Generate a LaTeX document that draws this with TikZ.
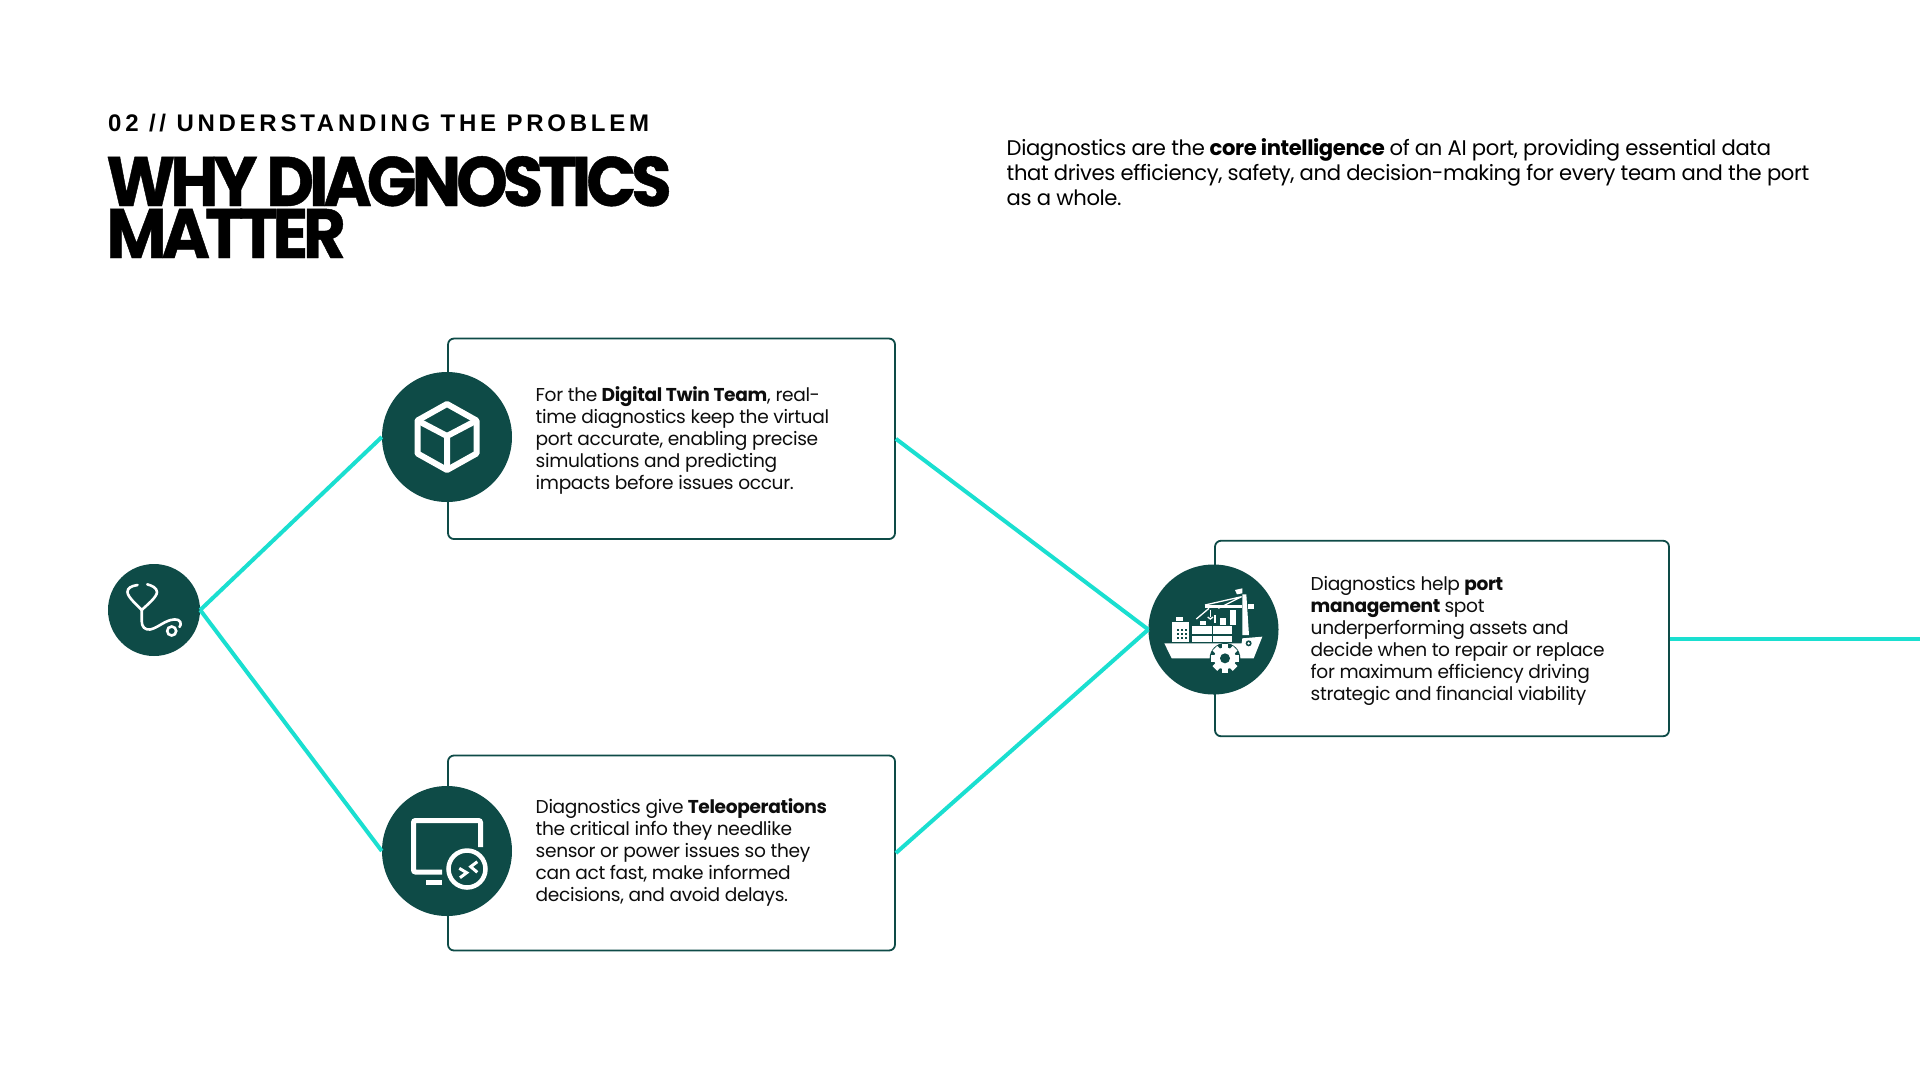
\documentclass[tikz,border=0pt]{standalone}
\usepackage{fontspec}
\setmainfont[LetterSpace=-1.9]{Poppins}
\newfontfamily\titlefont[LetterSpace=-7.3,FakeStretch=0.94,FakeBold=0.6]{Poppins Bold}
\newfontfamily\kickerfont[LetterSpace=15.6]{Liberation Sans Bold}
\definecolor{deep}{HTML}{0E4B47}
\definecolor{aqua}{HTML}{1ADFD0}
\tikzset{
  panel/.style={draw=deep,line width=1.8pt,rounded corners=6pt,fill=white,inner sep=0pt},
  disc/.style={circle,fill=deep,inner sep=0pt,minimum size=130pt},
  smalldisc/.style={circle,fill=deep,inner sep=0pt,minimum size=92pt},
  link/.style={draw=aqua,line width=4pt},
  body/.style={anchor=north west,align=left,inner sep=0pt,font=\fontsize{18.6}{22}\selectfont,text=black!95},
  lead/.style={anchor=north west,align=left,inner sep=0pt,font=\fontsize{21.15}{25}\selectfont,text=black},
  icon/.style={draw=white,line width=6pt,line join=round,fill=none},
  thin/.style={draw=white,line width=2.6pt,line cap=round,line join=round,fill=none},
  zoomed/.style={x=0.3333pt,y=-0.3333pt}
}
\begin{document}
\begin{tikzpicture}[x=1pt,y=-1pt]
\useasboundingbox (0,0) rectangle (1920,1080);
\fill[white] (0,0) rectangle (1920,1080);

\node[anchor=base west,inner sep=0pt,font=\fontsize{24}{24}\selectfont\kickerfont] (kicker) at (108,131) {02 // UNDERSTANDING THE PROBLEM};
\node[anchor=base west,inner sep=0pt,font=\fontsize{70}{70}\selectfont\titlefont] (title1) at (106,206) {WHY DIAGNOSTICS};
\node[anchor=base west,inner sep=0pt,font=\fontsize{70}{70}\selectfont\titlefont] (title2) at (106,258) {MATTER};
\node[lead] (intro) at (1006.5,138) {Diagnostics are the \textbf{core intelligence} of an AI port, providing essential data\\that drives efficiency, safety, and decision-making for every team and the port\\as a whole.};

\node[panel,minimum width=447pt,minimum height=200.5pt] (twinbox) at (671.5,438.8) {};
\node[panel,minimum width=447pt,minimum height=195pt] (telebox) at (671.5,853) {};
\node[panel,minimum width=454pt,minimum height=195.5pt] (portbox) at (1442,638.5) {};

\node[smalldisc] (steth) at (154,610) {};
\node[disc] (twin) at (447,437) {};
\node[disc] (tele) at (447,851) {};
\node[disc] (port) at (1213.5,629.5) {};
\coordinate (exit) at (1920,638.5);

\draw[link] (steth.east) -- (twin.west);
\draw[link] (steth.east) -- (tele.west);
\draw[link] (twinbox.east) -- (port.west);
\draw[link] (telebox.east) -- (port.west);
\draw[link] (portbox.east) -- (exit);

\node[body] (twintext) at (535.5,386.5) {For the \textbf{Digital Twin Team}, real-\\time diagnostics keep the virtual\\port accurate, enabling precise\\simulations and predicting\\impacts before issues occur.};
\node[body] (teletext) at (535.5,798) {Diagnostics give \textbf{Teleoperations}\\the critical info they needlike\\sensor or power issues so they\\can act fast, make informed\\decisions, and avoid delays.};
\node[body] (porttext) at (1310.5,576.5) {Diagnostics help \textbf{port}\\\textbf{management} spot\\underperforming assets and\\decide when to repair or replace\\for maximum efficiency driving\\strategic and financial viability};

% stethoscope
\draw[thin] (137.5,585) .. controls (131,586) and (127.5,588) .. (127.5,592) .. controls (127.5,597) and (137,605) .. (141.7,610) .. controls (147,605) and (157,597) .. (157,592) .. controls (157,588) and (152,585.5) .. (147.2,584.3);
\draw[thin] (141.7,610) -- (141.7,621) .. controls (141.7,627) and (145,630) .. (150,629.5) .. controls (158,628) and (165,620) .. (174,619.5) .. controls (181,619) and (182,624) .. (179.5,627);
\draw[draw=white,line width=2.6pt] (171.7,631) circle (4.5pt);

% cube
\begin{scope}[shift={(447,437)}]
\draw[icon] (0,-33) -- (29.5,-16.5) -- (29.5,16.5) -- (0,33) -- (-29.5,16.5) -- (-29.5,-16.5) -- cycle;
\draw[icon] (-29.5,-16.5) -- (0,-1) -- (29.5,-16.5) (0,-1) -- (0,33);
\end{scope}

% monitor
\draw[draw=white,line width=5pt,rounded corners=2pt] (480.5,847) -- (480.5,820.5) -- (413.5,820.5) -- (413.5,872) -- (442,872);
\fill[white] (426,880) rectangle (442,885);
\draw[draw=white,line width=4.5pt] (467,869) circle (18.5pt);
\draw[draw=white,line width=3pt] (459.3,868.3) -- (466.7,872.7) -- (460,877.7);
\draw[draw=white,line width=3pt] (477.3,861.7) -- (470.7,866.7) -- (477.3,872.3);

% ship
\begin{scope}[shift={(1135,555)},zoomed]
\fill[white] (88,265) -- (320,265) -- (322,250) -- (382,245) -- (356,310) -- (110,310) -- cycle;
\fill[deep] (341,265) circle (9);
\fill[white] (341,265) circle (4);
% block
\fill[white] (110,200) rectangle (162,260);
\fill[white] (122,186) rectangle (145,198);
\foreach \cx in {128,140,152}{\foreach \cy in {226,238,250}{\fill[deep] (\cx-3,\cy-3) rectangle (\cx+3,\cy+3);}}
% containers
\fill[white] (172,212) rectangle (230,238);
\fill[white] (172,242) rectangle (230,260);
\fill[white] (234,212) rectangle (292,238);
\fill[white] (234,242) rectangle (292,260);
\fill[white] (196,198) rectangle (214,210);
\fill[white] (256,190) rectangle (274,210);
% crane
\fill[white] (322,118) -- (334,118) -- (342,240) -- (322,240) -- cycle;
\fill[white] (286,164) rectangle (304,210);
\fill[white] (210,150) rectangle (322,160);
\draw[white,line width=1.3pt] (210,150) -- (320,125) (250,160) -- (320,125) (184,192) -- (222,160);
\fill[white] (300,105) -- (322,100) -- (322,115) -- (306,118) -- cycle;
\fill[white] (340,146) rectangle (356,162);
\draw[white,line width=1.3pt] (226,165) -- (226,185) (240,180) -- (240,205);
\draw[white,line width=1.3pt] (218,186) -- (226,192) -- (234,186);
% gear
\fill[deep] (270,310) circle (46);
\foreach \a in {0,45,...,315}{
  \fill[white,rotate around={\a:(270,310)}] (260,267) rectangle (280,290);
}
\fill[white] (270,310) circle (33);
\fill[deep] (270,310) circle (15);
\end{scope}
\end{tikzpicture}
\end{document}
